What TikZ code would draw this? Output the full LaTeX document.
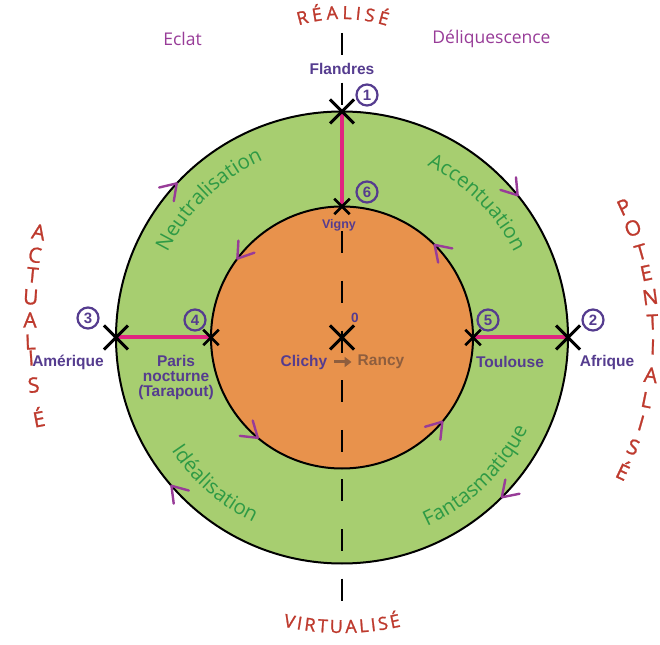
\documentclass[tikz,border=0pt]{standalone}
\usepackage{fontspec}
\setmainfont{Liberation Sans}
\newfontfamily\osans{Open Sans}
\newfontfamily\osansb{Open Sans}[FakeBold=1.2]
\usetikzlibrary{decorations.text,calc,shapes.misc,arrows.meta}
\definecolor{ringgreen}{HTML}{A7CE70}
\definecolor{coreorange}{HTML}{E8924C}
\definecolor{lblpurple}{HTML}{553C8F}
\definecolor{chevpurple}{HTML}{983C98}
\definecolor{linkpink}{HTML}{E0257F}
\definecolor{polered}{HTML}{BE3A2E}
\definecolor{ringtext}{HTML}{2E9A45}
\definecolor{rancybrown}{HTML}{8E5E3E}
\tikzset{
  lbl/.style={font=\bfseries\fontsize{15.5}{15}\selectfont, text=lblpurple, inner sep=0pt, align=center},
  numc/.style={circle, draw=lblpurple, line width=2.2pt, minimum size=21pt, inner sep=0pt, font=\bfseries\fontsize{15}{15}\selectfont, text=lblpurple},
  bigx/.style={cross out, draw=black, line width=3pt, minimum size=21pt, inner sep=0pt},
  smallx/.style={cross out, draw=black, line width=2.5pt, minimum size=13pt, inner sep=0pt},
  link/.style={draw=linkpink, line width=4pt},
  axisline/.style={draw=black, line width=2.5pt, dash pattern=on 22pt off 27.6pt},
  sidel/.style={font=\osansb\fontsize{21}{22}\selectfont, text=polered, inner sep=0pt},
  topl/.style={font=\osansb\fontsize{18}{19}\selectfont, text=polered, inner sep=0pt},
  topword/.style={font=\osans\fontsize{17.5}{18}\selectfont, text=chevpurple, inner sep=0pt},
  ringlabel/.style={decorate, decoration={text along path, text align=center, text color=ringtext, text={|\osans\fontsize{20.5}{21}\selectfont|#1}}},
  chev/.pic={\draw[chevpurple, line width=2.4pt, line cap=round, line join=round] (-15pt,10pt) -- (0pt,0pt) -- (-15pt,-10pt);}
}
\begin{document}
\begin{tikzpicture}[x=1pt,y=1pt]
\useasboundingbox (-342,-306.5) rectangle (318,337.5);
\fill[white] (-342,-306.5) rectangle (318,337.5);
\coordinate (O) at (0,0);
% rings
\draw[line width=2pt, fill=ringgreen] (O) circle[radius=226pt];
\draw[line width=2pt, fill=coreorange] (O) circle[radius=131pt];
% axis
\coordinate (dtop) at (0,304.5);
\coordinate (dbot) at (0,-264.5);
\draw[axisline] (dtop) -- (dbot);
% points
\coordinate (pf) at (0,226);
\coordinate (pv) at (0,131);
\coordinate (pam) at (-226,0);
\coordinate (ppn) at (-131,0);
\coordinate (ptl) at (131,0);
\coordinate (paf) at (226,0);
\draw[link] (pf) -- (pv);
\draw[link] (pam) -- (ppn);
\draw[link] (ptl) -- (paf);
\node[bigx] (xf) at (pf) {};
\node[bigx] (xam) at (pam) {};
\node[bigx] (xaf) at (paf) {};
\node[bigx] (xo) at (O) {};
\node[smallx] (xv) at (pv) {};
\node[smallx] (xpn) at (ppn) {};
\node[smallx] (xtl) at (ptl) {};
% chevrons: outer clockwise, inner counter-clockwise
\foreach \a in {137,39,-45,-139}{
  \pic[rotate=\a-90] at (\a:226) {chev};
}
\foreach \a in {143,45,-40,-130}{
  \pic[rotate=\a+90] at (\a:131) {chev};
}
% numbers
\node[numc] (n1) at (25,242.5) {1};
\node[numc] (n6) at (25,145.5) {6};
\node[numc] (n3) at (-254,19.5) {3};
\node[numc] (n4) at (-147,17.5) {4};
\node[numc] (n5) at (146,17.5) {5};
\node[numc] (n2) at (251,17.5) {2};
\node[font=\bfseries\fontsize{13.5}{13.5}\selectfont, text=lblpurple, inner sep=0pt] (n0) at (13,19.5) {0};
% labels
\node[lbl] (flandres) at (0,268.5) {Flandres};
\node[lbl, font=\bfseries\fontsize{12.5}{13}\selectfont] (vigny) at (-3,112.5) {Vigny};
\node[lbl] (amerique) at (-274,-24.5) {Amérique};
\node[lbl] (paris) at (-166,-39.5) {Paris\\nocturne\\(Tarapout)};
\node[lbl] (toulouse) at (168,-24.5) {Toulouse};
\node[lbl] (afrique) at (265,-24.5) {Afrique};
\node[lbl, font=\bfseries\fontsize{15.5}{16}\selectfont] (clichy) at (-38,-24.5) {Clichy};
\node[lbl, font=\bfseries\fontsize{15.5}{16}\selectfont, text=rancybrown] (rancy) at (39,-24.5) {Rancy};
\draw[rancybrown, line width=3pt, shorten <=7pt, shorten >=6pt, -{Triangle[length=7pt,width=10pt]}] (clichy.east) -- (rancy.west);
% top words
\node[topword] (eclat) at (-159.5,298.5) {Eclat};
\node[topword] (deliq) at (149.5,298.5) {Déliquescence};
% ring labels
\path[ringlabel=Neutralisation] (164:194) arc[start angle=164, end angle=104, radius=194pt];
\path[ringlabel=Accentuation] (75:192) arc[start angle=75, end angle=15, radius=192pt];
\path[ringlabel=Idéalisation] (-161:205) arc[start angle=-161, end angle=-101, radius=205pt];
\path[ringlabel=Fantasmatique] (-76:207) arc[start angle=-76, end angle=-16, radius=207pt];
% RÉALISÉ
\foreach \ch/\dx [count=\i] in {R/-38, É/-24, A/-9.5, L/5, I/15.7, S/26.8, É/40}{
  \pgfmathsetmacro\aa{asin(\dx/150)}
  \pgfmathsetmacro\rr{-\aa}
  \node[topl, rotate=\rr, anchor=base] (rea\i) at ($(0,168.5)+({90-\aa}:150)$) {\ch};
}
% VIRTUALISÉ
\foreach \ch/\dx [count=\i] in {V/-53.7, I/-43.4, R/-32.7, T/-19.7, U/-5.8, A/9.2, L/22.3, I/32, S/41.9, É/54.2}{
  \pgfmathsetmacro\aa{asin(\dx/270)}
  \node[topl, rotate=\aa, anchor=base] (vir\i) at ($(0,-25.5)+({-90+\aa}:270)$) {\ch};
}
% ACTUALISÉ
\foreach \ch/\yy [count=\i] in {A/105.5, C/82.5, T/62.5, U/40.5, A/17.5, L/-4.5, I/-20.5, S/-47.5, É/-79.5}{
  \pgfmathsetmacro\aa{asin((\yy-12.5)/500)}
  \pgfmathsetmacro\rr{-\aa}
  \node[sidel, rotate=\rr] (act\i) at ($(188,12.5)+({180-\aa}:500)$) {\ch};
}
% POTENTIALISÉ
\foreach \ch/\yy [count=\i] in {P/130.5, O/109.5, T/85.5, E/64.5, N/40.5, T/15.5, I/-9.5, A/-37.5, L/-62.5, I/-85.5, S/-109.5, É/-132.5}{
  \pgfmathsetmacro\aa{asin((\yy+0.5)/311)}
  \node[sidel, rotate=\aa] (pot\i) at ($(0,-0.5)+(\aa:311)$) {\ch};
}
\end{tikzpicture}
\end{document}
